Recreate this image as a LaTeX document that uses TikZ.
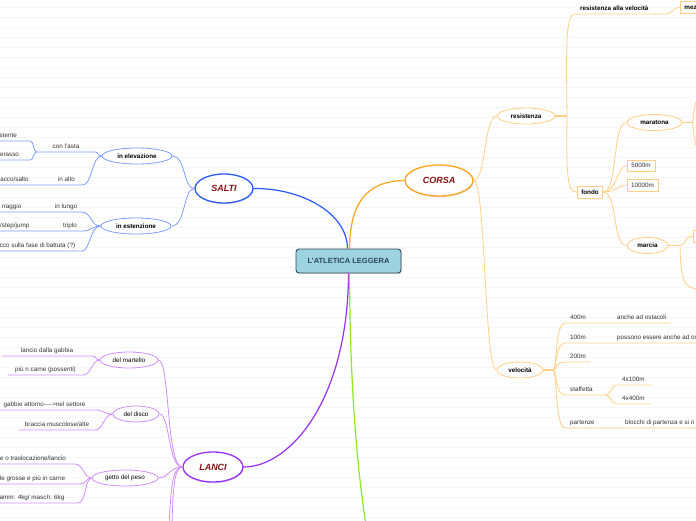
\documentclass[tikz,border=0pt]{standalone}
\usepackage{fontspec}
\setmainfont{Liberation Sans}
\usepackage{xcolor}
\definecolor{colorCorsa}{HTML}{FFA31A}
\definecolor{colorCorsaSub}{HTML}{FFCF85}
\definecolor{colorSalti}{HTML}{2B59FF}
\definecolor{colorSaltiSub}{HTML}{7E9DFF}
\definecolor{colorLanci}{HTML}{9A2EF5}
\definecolor{colorLanciSub}{HTML}{D08CFF}
\definecolor{colorVerde}{HTML}{8CEB1E}
\definecolor{colorTopic}{HTML}{8B1111}
\definecolor{colorRoot}{HTML}{9DD3E1}
\definecolor{colorRootLine}{HTML}{2C4756}
\definecolor{colorText}{HTML}{333333}
\definecolor{colorRule}{HTML}{F6F6F6}
\usepackage{tikz}
\usetikzlibrary{shapes.geometric, shadows}
\newcommand{\leafsize}{\fontsize{6.3}{7.5}\selectfont}
\tikzset{
  rule/.style={colorRule, line width=0.6pt},
  root/.style={draw=colorRootLine, fill=colorRoot, rounded corners=3pt, line width=0.9pt, minimum width=105pt, minimum height=24pt, font=\fontsize{7.5}{9}\selectfont\bfseries, text=colorRootLine, drop shadow={opacity=0.25, shadow xshift=0.8pt, shadow yshift=-1pt}},
  topic/.style={ellipse, fill=white, inner sep=0pt, line width=1.3pt, font=\fontsize{9}{11}\selectfont\bfseries\itshape, text=colorTopic, drop shadow={opacity=0.25, shadow xshift=0.8pt, shadow yshift=-1.2pt}},
  sub/.style={ellipse, fill=white, inner sep=0pt, line width=0.8pt, minimum height=16pt, font=\leafsize, text=black},
  box/.style={rectangle, fill=white, line width=0.8pt, minimum height=12pt, inner xsep=4pt, inner ysep=0pt, font=\leafsize, text=colorText},
  leaf/.style={inner xsep=0pt, inner ysep=1.5pt, text depth=1.6pt, text height=4.6pt, font=\leafsize, text=colorText, minimum width=#1, anchor=south},
  rleaf/.style={inner xsep=5pt, inner ysep=1.5pt, text depth=1.6pt, text height=4.6pt, font=\leafsize, text=colorText, anchor=south west, execute at begin node={\hbox to #1\bgroup}, execute at end node={\hss\egroup}},
  branch/.style={line width=1.2pt, draw=#1},
  twig/.style={line width=0.8pt, draw=#1},
}

\begin{document}
\begin{tikzpicture}[x=1pt, y=-1pt]
\useasboundingbox (0,0) rectangle (696,520);
\foreach \r in {7,17,...,517} \draw[rule] (0,\r) -- (696,\r);

% centre and main topics
\node[root] (atletica) at (348.5,261) {L'ATLETICA LEGGERA};
\node[topic, draw=colorCorsa, minimum width=68pt, minimum height=31pt] (corsa) at (439,180.5) {CORSA};
\node[topic, draw=colorSalti, minimum width=58pt, minimum height=29pt] (salti) at (224,188.5) {SALTI};
\node[topic, draw=colorLanci, minimum width=60pt, minimum height=30pt] (lanci) at (213,467) {LANCI};
\coordinate (verde) at (366,525);
\draw[branch=colorCorsa] ([xshift=1pt]atletica.north) .. controls (350,205) and (365,181) .. (corsa.west);
\draw[branch=colorSalti] ([xshift=-1pt]atletica.north) .. controls (347,212) and (300,188) .. (salti.east);
\draw[branch=colorLanci] (atletica.south) .. controls (348,400) and (290,467) .. (lanci.east);
\draw[branch=colorVerde] ([xshift=1pt]atletica.south) .. controls (350,380) and (356,460) .. (verde);

% SALTI
\node[sub, draw=colorSaltiSub, minimum width=70pt, font=\leafsize\bfseries] (elevazione) at (137,156) {in elevazione};
\node[sub, draw=colorSaltiSub, minimum width=70pt, font=\leafsize\bfseries] (estenzione) at (136,226) {in estenzione};
\draw[twig=colorSaltiSub] (salti.west) .. controls (183,188.5) and (186,156) .. (elevazione.east);
\draw[twig=colorSaltiSub] (salti.west) .. controls (183,188.5) and (186,226) .. (estenzione.east);

\node[leaf=58pt] (asta) at (66,152) {con l'asta};
\node[leaf=45pt] (istente) at (7.5,141) {istente};
\node[leaf=41pt] (erasso) at (9.5,160) {erasso};
\node[leaf=32pt] (alto) at (66.5,185) {in alto};
\node[leaf=71pt] (salto) at (14.5,185) {acco/salto};
\draw[twig=colorSaltiSub] (elevazione.west) .. controls (97,156) and (99,152) .. (asta.south east) -- (asta.south west);
\draw[twig=colorSaltiSub] (asta.south west) .. controls (33,152) and (34,141) .. (istente.south east) -- (istente.south west);
\draw[twig=colorSaltiSub] (asta.south west) .. controls (33,152) and (34,160) .. (erasso.south east) -- (erasso.south west);
\draw[twig=colorSaltiSub] (elevazione.west) .. controls (92,156) and (92,185) .. (alto.south east) -- (salto.south west);

\node[leaf=30pt] (lungo) at (66,212) {in lungo};
\node[leaf=79pt] (raggio) at (11.5,212) {rraggio};
\node[leaf=26pt] (triplo) at (70,231) {triplo};
\node[leaf=88pt] (jump) at (13,231) {p/step/jump};
\node[leaf=89pt] (battuta) at (37.5,251) {cco sulla fase di battuta (?)};
\draw[twig=colorSaltiSub] (estenzione.west) .. controls (90,226) and (92,212) .. (lungo.south east) -- (raggio.south west);
\draw[twig=colorSaltiSub] (estenzione.west) .. controls (92,226) and (91,231) .. (triplo.south east) -- (jump.south west);
\draw[twig=colorSaltiSub] (estenzione.west) .. controls (90,226) and (90,251) .. (battuta.south east) -- (battuta.south west);

% LANCI
\node[sub, draw=colorLanciSub, minimum width=58pt] (martello) at (129,360) {del martello};
\node[sub, draw=colorLanciSub, minimum width=46pt] (disco) at (136,414) {del disco};
\node[sub, draw=colorLanciSub, minimum width=66pt] (peso) at (125,478) {getto del peso};
\coordinate (lanciA) at (169,525);
\coordinate (lanciB) at (172,525);
\draw[twig=colorLanciSub] (lanci.west) .. controls (166,467) and (170,360) .. (martello.east);
\draw[twig=colorLanciSub] (lanci.west) .. controls (168,467) and (170,414) .. (disco.east);
\draw[twig=colorLanciSub] (lanci.west) .. controls (170,467) and (168,478) .. (peso.east);
\draw[twig=colorLanciSub] (lanci.west) .. controls (172,467) and (171,490) .. (lanciA);
\draw[twig=colorLanciSub] (lanci.west) .. controls (174,467) and (173,490) .. (lanciB);

\node[leaf=90pt] (gabbia) at (47,356) {lancio dalla gabbia};
\node[leaf=75pt] (possenti) at (45.5,375) {più n carne (possenti)};
\draw[twig=colorLanciSub] (martello.west) .. controls (95,360) and (97,356) .. (gabbia.south east) -- (gabbia.south west);
\draw[twig=colorLanciSub] (martello.west) .. controls (92,360) and (91,375) .. (possenti.south east) -- (possenti.south west);

\node[leaf=101pt] (settore) at (44.5,410) {gabbie attorno-\kern0pt-\kern0pt-\kern0pt->nel settore};
\node[leaf=76pt] (braccia) at (57,430) {braccia muscolose/alte};
\draw[twig=colorLanciSub] (disco.west) .. controls (104,414) and (103,410) .. (settore.south east) -- (settore.south west);
\draw[twig=colorLanciSub] (disco.west) .. controls (104,414) and (103,430) .. (braccia.south east) -- (braccia.south west);

\node[leaf=84pt] (lancio) at (33,464) {e o traslocazione/lancio};
\node[leaf=95pt] (grosse) at (32.5,484) {le grosse e più in carne};
\node[leaf=92pt] (masch) at (32,503) {amm: 4kg/ masch: 6kg};
\draw[twig=colorLanciSub] (peso.west) .. controls (84,478) and (83,464) .. (lancio.south east) -- (lancio.south west);
\draw[twig=colorLanciSub] (peso.west) .. controls (86,478) and (86,484) .. (grosse.south east) -- (grosse.south west);
\draw[twig=colorLanciSub] (peso.west) .. controls (85,478) and (86,503) .. (masch.south east) -- (masch.south west);

% CORSA
\node[sub, draw=colorCorsaSub, minimum width=58pt, font=\leafsize\bfseries] (resistenza) at (526,116) {resistenza};
\node[sub, draw=colorCorsaSub, minimum width=46pt, font=\leafsize\bfseries] (velocita) at (520,370) {velocità};
\draw[twig=colorCorsaSub] (corsa.east) .. controls (486,181) and (484,116) .. (resistenza.west);
\draw[twig=colorCorsaSub] (corsa.east) .. controls (486,181) and (484,370) .. (velocita.west);

\coordinate (resHub) at (567,116);
\node[rleaf=80pt, font=\leafsize\bfseries, text=black] (resvel) at (575,14) {resistenza alla velocità};
\node[box, draw=colorCorsaSub, font=\leafsize\bfseries, text=black, anchor=west] (mezzo) at (680,7.5) {mezzofondo};
\node[box, draw=colorCorsaSub, font=\leafsize\bfseries, text=black] (fondo) at (590,192) {fondo};
\draw[line width=1.1pt, colorCorsaSub] (resistenza.east) -- (resHub);
\draw[twig=colorCorsaSub] (resHub) .. controls (566,40) and (566,14) .. (resvel.south west) -- (resvel.south east) .. controls (673,14) and (672,7.5) .. (mezzo.west);
\draw[twig=colorCorsaSub] (resHub) .. controls (566,180) and (568,192) .. (fondo.west);

\node[sub, draw=colorCorsaSub, minimum width=55pt, font=\leafsize\bfseries] (maratona) at (654.5,122.5) {maratona};
\node[box, draw=colorCorsaSub, minimum width=28pt, minimum height=11pt] (km5) at (641,165.5) {5000m};
\node[box, draw=colorCorsaSub, minimum width=31pt] (km10) at (642.5,185) {10000m};
\node[sub, draw=colorCorsaSub, minimum width=41pt, font=\leafsize\bfseries] (marcia) at (647.5,245.5) {marcia};
\draw[twig=colorCorsaSub] (fondo.east) .. controls (618,192) and (612,122.5) .. (maratona.west);
\draw[twig=colorCorsaSub] (fondo.east) .. controls (617,192) and (617,165.5) .. (km5.west);
\draw[twig=colorCorsaSub] (fondo.east) .. controls (617,192) and (617,185) .. (km10.west);
\draw[twig=colorCorsaSub] (fondo.east) .. controls (618,192) and (612,245.5) .. (marcia.west);

\coordinate (maraHub) at (692,122.5);
\coordinate (maraUp) at (700,98);
\coordinate (maraDown) at (700,150);
\draw[line width=1.1pt, colorCorsaSub] (maratona.east) -- (maraHub);
\draw[twig=colorCorsaSub] (maraHub) .. controls (694,122.5) and (693,98) .. (maraUp);
\draw[twig=colorCorsaSub] (maraHub) .. controls (694,122.5) and (693,150) .. (maraDown);

\coordinate (marHub) at (680,245.5);
\node[box, draw=colorCorsaSub, minimum width=20pt, anchor=west] (marBox) at (693,236) {};
\coordinate (marDown) at (700,289);
\draw[line width=1.1pt, colorCorsaSub] (marcia.east) -- (marHub);
\draw[twig=colorCorsaSub] (marHub) .. controls (685,245.5) and (685,236) .. (marBox.west);
\draw[twig=colorCorsaSub] (marHub) .. controls (681,280) and (683,289) .. (marDown);

\coordinate (velHub) at (553,370);
\node[rleaf=37pt] (v400) at (565,323) {400m};
\node[rleaf=48pt] (ostacoli) at (612,323) {anche ad ostacoli};
\node[rleaf=37pt] (v100) at (565,343) {100m};
\node[rleaf=90pt] (possono) at (612,343) {possono essere anche ad ost};
\node[rleaf=15pt] (v200) at (565,362) {200m};
\node[rleaf=30pt] (staffetta) at (565,395) {staffetta};
\node[rleaf=24pt] (x100) at (617,385) {4x100m};
\node[rleaf=24pt] (x400) at (617,404) {4x400m};
\node[rleaf=45pt] (partenze) at (565,428) {partenze};
\node[rleaf=80pt] (blocchi) at (620,428) {blocchi di partenza e si ri};
\draw[line width=1.1pt, colorCorsaSub] (velocita.east) -- (velHub);
\draw[twig=colorCorsaSub] (velHub) .. controls (557,370) and (555,323) .. (v400.south west) -- (ostacoli.south east);
\draw[twig=colorCorsaSub] (velHub) .. controls (557,370) and (555,343) .. (v100.south west) -- (possono.south east);
\draw[twig=colorCorsaSub] (velHub) .. controls (557,370) and (555,362) .. (v200.south west) -- (v200.south east);
\draw[twig=colorCorsaSub] (velHub) .. controls (557,370) and (555,395) .. (staffetta.south west) -- (staffetta.south east);
\draw[twig=colorCorsaSub] (velHub) .. controls (557,370) and (555,428) .. (partenze.south west) -- (blocchi.south east);
\draw[twig=colorCorsaSub] (staffetta.south east) .. controls (611,395) and (611,385) .. (x100.south west) -- (x100.south east);
\draw[twig=colorCorsaSub] (staffetta.south east) .. controls (611,395) and (611,404) .. (x400.south west) -- (x400.south east);
\end{tikzpicture}
\end{document}
